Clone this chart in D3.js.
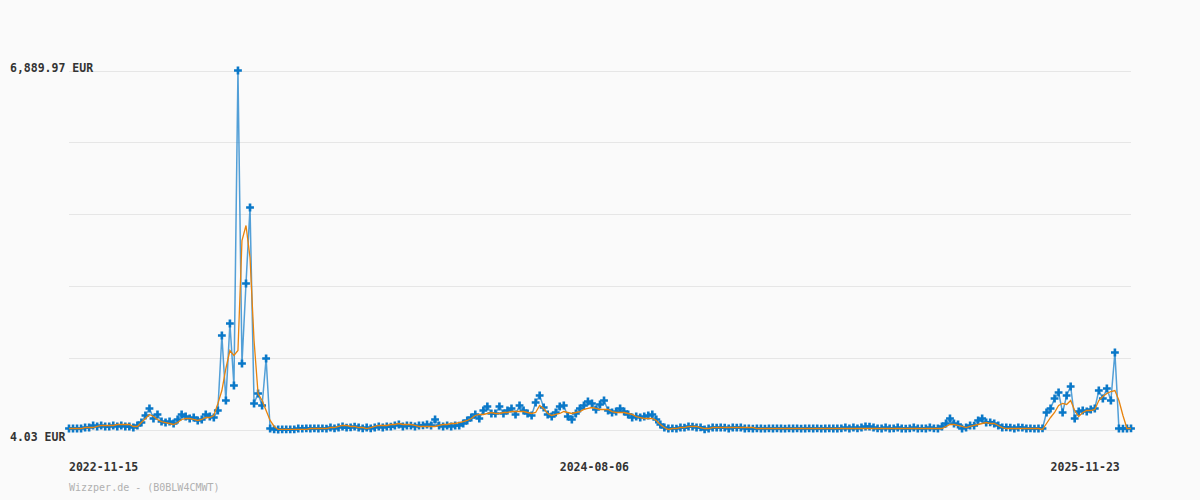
<!DOCTYPE html>
<html>
<head>
<meta charset="utf-8">
<script src="https://cdn.jsdelivr.net/npm/d3@7"></script>
<style>
  body { margin: 0; background: #fafafa; }
  text { font-family: "DejaVu Sans Mono", monospace; }
</style>
</head>
<body>
<div id="area1"></div>
<script>
// price (EUR), one value per data point
var prices = [
  23,23,23,23,42,42,81,62,81,62,
  62,81,62,81,62,62,42,81,138,273,
  407,215,292,157,138,157,119,196,292,253,
  215,234,177,196,292,253,234,368,1807,560,
  2037,848,6889.97,1270,2804,4262,503,695,464,1366,
  23,5,4.03,5,6,5,5,23,22,24,
  23,25,23,24,22,42,24,42,62,40,
  44,60,42,25,42,24,42,62,42,62,
  60,81,100,62,81,80,62,81,82,100,
  81,196,81,62,81,62,81,80,119,177,
  234,292,215,368,445,311,311,445,311,368,
  407,292,464,368,311,273,522,656,426,292,
  253,330,445,464,253,196,311,407,464,541,
  503,388,484,560,368,330,349,407,349,292,
  234,253,234,253,273,292,196,100,42,23,
  24,22,42,40,62,60,42,44,6,23,
  42,40,43,41,23,42,41,43,23,24,
  22,25,23,22,24,23,25,23,22,24,
  23,24,22,23,25,23,24,22,23,24,
  23,23,24,42,23,42,24,42,62,60,
  42,24,23,42,23,24,42,23,22,24,
  42,23,24,23,42,24,23,62,119,215,
  119,100,23,42,81,80,177,215,138,140,
  119,81,42,44,40,23,42,41,23,24,
  22,23,24,330,407,599,714,330,656,829,
  215,349,368,349,388,407,752,599,790,560,
  1481,23,22,23,24
];

// orange average line
var average = [
  23,23,23,23,42,42,42,62,81,81,
  81,81,100,100,100,100,62,62,138,215,
  292,253,196,157,138,119,100,138,196,215,
  215,196,177,196,234,234,273,500,752,1174,
  1519,1423,1519,3629,3917,3303,1711,695,560,368,
  177,62,5,5,5,5,5,5,5,5,
  23,23,23,23,23,42,42,62,81,81,
  62,62,42,42,23,42,62,81,81,81,
  100,100,119,100,100,100,81,62,62,62,
  62,62,81,100,100,119,119,138,157,177,
  215,273,292,292,311,330,311,311,330,330,
  349,349,349,349,330,311,330,464,407,311,
  273,292,311,349,330,311,330,349,388,407,
  426,407,388,388,388,349,330,330,330,311,
  292,253,234,215,215,215,177,100,42,5,
  23,23,42,42,62,62,62,42,23,23,
  42,42,42,42,42,42,42,42,42,42,
  42,23,23,23,23,23,23,23,23,23,
  23,23,23,23,23,23,23,23,23,23,
  23,23,23,23,23,23,23,23,23,23,
  23,23,23,23,23,23,23,23,23,23,
  23,23,23,23,23,23,23,23,62,100,
  100,81,62,42,62,81,100,119,138,119,
  119,81,42,23,23,23,23,23,23,23,
  23,23,5,119,234,330,464,503,484,560,
  368,253,330,368,368,388,560,637,695,733,
  752,560,273,23,23
];

var xLabels = ["2022-11-15", "2024-08-06", "2025-11-23"];
var xLabelIndex = [0, 122, 244];
var yMin = 4.03, yMax = 6889.97;
var source = "Wizzper.de - (B0BLW4CMWT)";

var width = 1200, height = 500;

var svg = d3.select("#area1")
  .append("svg")
    .attr("width", width)
    .attr("height", height)
    .style("display", "block")
    .style("background", "#fafafa");

var x = d3.scaleLinear()
  .domain([0, prices.length - 1])
  .range([69, 1131]);

var y = d3.scaleLinear()
  .domain([yMin, yMax])
  .range([429.5, 70.5]);

// horizontal grid, 5 equal steps
var gridVals = d3.range(6).map(function(k) { return yMin + k * (yMax - yMin) / 5; });
svg.append("g")
  .selectAll("line")
  .data(gridVals)
  .enter()
  .append("line")
    .attr("x1", 69)
    .attr("x2", 1131)
    .attr("y1", function(d) { return Math.round(y(d)) + 0.5; })
    .attr("y2", function(d) { return Math.round(y(d)) + 0.5; })
    .attr("stroke", "#e6e6e6")
    .attr("stroke-width", 1);

// price line + markers
var line = d3.line()
  .x(function(d, i) { return x(i); })
  .y(function(d) { return y(d); });

svg.append("path")
  .datum(prices)
  .attr("fill", "none")
  .attr("stroke", "#0a78c8")
  .attr("stroke-opacity", 0.7)
  .attr("stroke-width", 1.5)
  .attr("d", line);

var marker = d3.symbol().type(d3.symbolCross).size(34);
svg.append("g")
  .selectAll("path")
  .data(prices)
  .enter()
  .append("path")
    .attr("d", marker)
    .attr("transform", function(d, i) { return "translate(" + x(i) + "," + y(d) + ")"; })
    .attr("fill", "#0a78c8");

// average line
svg.append("path")
  .datum(average)
  .attr("fill", "none")
  .attr("stroke", "#e8830c")
  .attr("stroke-width", 1.3)
  .attr("d", line);

// y labels (min / max)
var fmt = d3.format(",.2f");
svg.append("text")
  .attr("x", 10)
  .attr("y", 71.5)
  .attr("font-size", "11.5px")
  .attr("font-weight", "bold")
  .attr("fill", "#333")
  .text(fmt(yMax) + " EUR");
svg.append("text")
  .attr("x", 10)
  .attr("y", 441)
  .attr("font-size", "11.5px")
  .attr("font-weight", "bold")
  .attr("fill", "#333")
  .text(fmt(yMin) + " EUR");

// x labels
svg.append("g")
  .selectAll("text")
  .data(xLabels)
  .enter()
  .append("text")
    .attr("x", function(d, i) { return x(xLabelIndex[i]); })
    .attr("y", 470.5)
    .attr("font-size", "11.5px")
    .attr("font-weight", "bold")
    .attr("fill", "#333")
    .text(function(d) { return d; });

svg.append("text")
  .attr("x", 69)
  .attr("y", 491)
  .attr("font-size", "10px")
  .attr("fill", "#b0b0b0")
  .text(source);
</script>
</body>
</html>
